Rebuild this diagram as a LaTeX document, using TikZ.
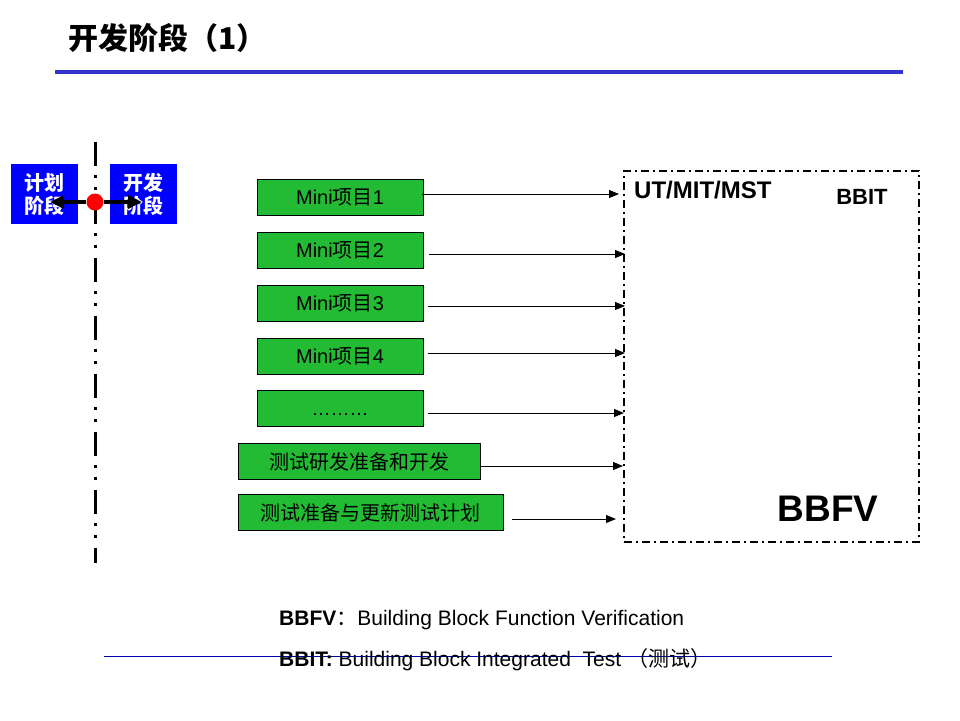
\documentclass[tikz,border=0pt]{standalone}
\usepackage{fontspec}
\setmainfont{Liberation Sans}
\newfontfamily\cjk{Noto Sans CJK SC}
\usepackage{tikz}
\usetikzlibrary{arrows.meta}
\definecolor{titleblue}{RGB}{51,51,204}
\definecolor{boxblue}{RGB}{0,0,255}
\definecolor{boxgreen}{RGB}{34,187,51}
\definecolor{lineblue}{RGB}{0,0,170}

\tikzset{
  stagebox/.style={fill=boxblue, text=white, inner sep=0pt, minimum width=67pt, minimum height=60pt,
    align=center, font=\fontsize{20}{23}\selectfont\cjk\bfseries},
  minibox/.style={draw=black, line width=1pt, fill=boxgreen, inner sep=0pt, minimum height=36pt,
    font=\fontsize{20}{22}\selectfont},
  feed/.style={line width=1pt, -{Triangle[length=10pt,width=8pt]}},
  bigarrow/.style={line width=4pt, -{Triangle[length=14pt,width=13pt]}}
}

\begin{document}
\begin{tikzpicture}[x=1pt,y=-1pt]
\useasboundingbox (0,0) rectangle (960,720);

% title
\path (68,38) node[anchor=west, inner sep=0pt, font=\fontsize{30}{32}\selectfont\cjk\bfseries] (title) {开发阶段（1）};
\fill[titleblue] (55,70) rectangle (903,74);

% left: stage line
\draw[line width=3pt, dash pattern=on 24pt off 9pt on 3pt off 9pt on 3pt off 10pt] (95,142) -- (95,563);
\path (44.5,194) node[stagebox] (plan) {计划\\阶段};
\path (143.5,194) node[stagebox] (dev) {开发\\阶段};
\coordinate (pl) at (50,202);
\coordinate (pr) at (142,202);
\path (95,202) node[circle, fill=red, inner sep=0pt, minimum size=17pt] (dot) {};
\draw[bigarrow] (dot.west) -- (pl);
\draw[bigarrow] (dot.east) -- (pr);

% frame
\path (771.5,356.5) node[draw=black, line width=2pt, dash pattern=on 8pt off 4pt on 2pt off 4pt,
  minimum width=295pt, minimum height=371pt, inner sep=0pt] (frame) {};
\path (634,190) node[anchor=west, inner sep=0pt, font=\fontsize{24}{26}\selectfont\bfseries] (ut) {UT/MIT/MST};
\path (862,197) node[font=\fontsize{22}{25}\selectfont\bfseries] (bbit) {BBIT};
\path (828,509) node[font=\fontsize{37}{40}\selectfont\bfseries] (bbfv) {BBFV};

% work items
\path (340,197) node[minibox, minimum width=166pt] (m1) {Mini{\cjk 项目}1};
\path (340,250) node[minibox, minimum width=166pt] (m2) {Mini{\cjk 项目}2};
\path (340,303) node[minibox, minimum width=166pt] (m3) {Mini{\cjk 项目}3};
\path (340,356) node[minibox, minimum width=166pt] (m4) {Mini{\cjk 项目}4};
\path (340,408.5) node[minibox, minimum width=166pt] (m5) {\raisebox{-7pt}[0pt][0pt]{\fontsize{19}{19}\selectfont ………}};
\path (359,461.5) node[minibox, minimum width=242pt, font=\fontsize{20}{22}\selectfont\cjk] (t1) {测试研发准备和开发};
\path (370.5,512.5) node[minibox, minimum width=265pt, font=\fontsize{20}{22}\selectfont\cjk] (t2) {测试准备与更新测试计划};

\draw[feed] ([xshift=-2pt,yshift=3pt]m1.east) -- ([yshift=3pt, xshift=-4pt]m1.east -| frame.west);
\draw[feed] ([xshift=5pt,yshift=-4pt]m2.east) -- ([yshift=-4pt, xshift=2pt]m2.east -| frame.west);
\draw[feed] ([xshift=4pt,yshift=-3pt]m3.east) -- ([yshift=-3pt, xshift=2pt]m3.east -| frame.west);
\draw[feed] ([xshift=4pt,yshift=3pt]m4.east) -- ([yshift=3pt, xshift=2pt]m4.east -| frame.west);
\draw[feed] ([xshift=4pt,yshift=-4.5pt]m5.east) -- ([yshift=-4.5pt, xshift=1pt]m5.east -| frame.west);
\draw[feed] ([yshift=-4.5pt]t1.east) -- ([yshift=-4.5pt]t1.east -| frame.west);
\draw[feed] ([xshift=8pt,yshift=-6.5pt]t2.east) -- ([yshift=-6.5pt, xshift=-7pt]t2.east -| frame.west);

% legend
\path (279,620) node[anchor=west, inner sep=0pt, font=\fontsize{21}{23}\selectfont] (leg1) {\textbf{BBFV}{\cjk ：}Building Block Function Verification};
\draw[lineblue, line width=1pt] (104,656) -- (832,656);
\path (279,660) node[anchor=west, inner sep=0pt, font=\fontsize{21}{23}\selectfont] (leg2) {\textbf{BBIT:} Building Block Integrated\ \ Test {\cjk （测试）}};
\end{tikzpicture}
\end{document}
